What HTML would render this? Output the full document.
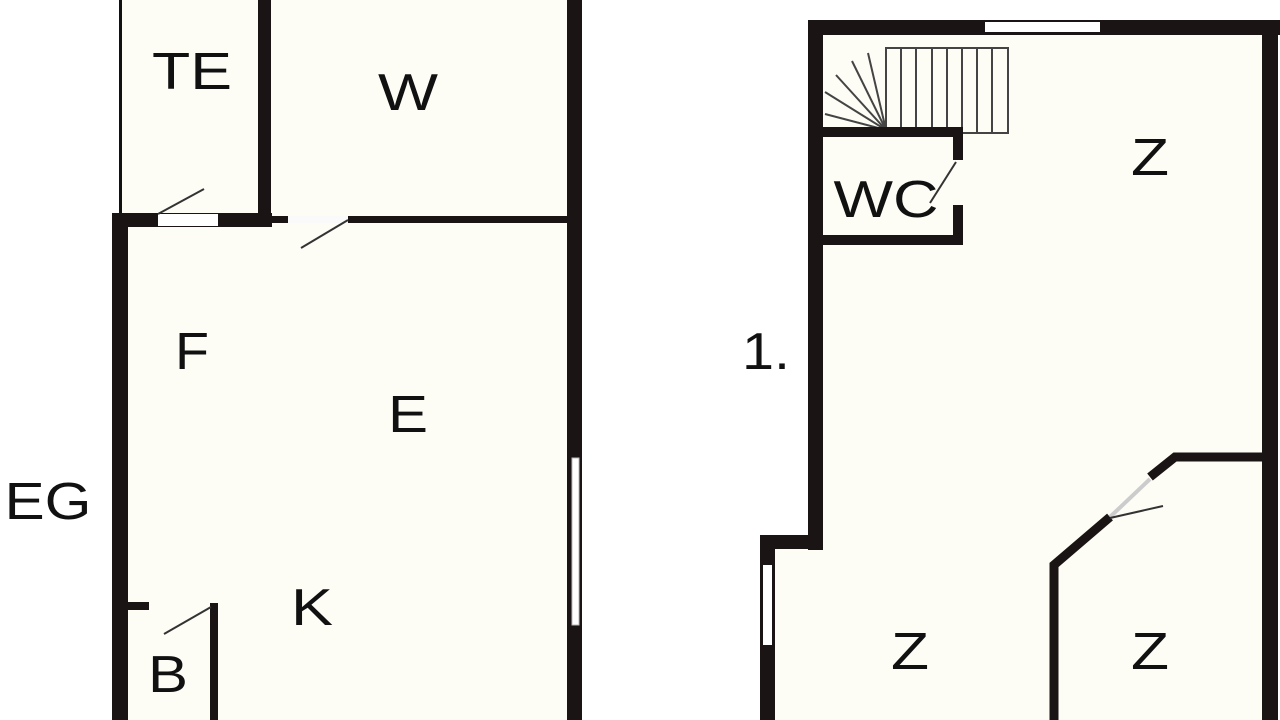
<!DOCTYPE html>
<html><head><style>
html,body{margin:0;padding:0;background:#fff;}
svg{display:block}
text{font-family:"Liberation Sans",sans-serif;font-size:52px;fill:#111;text-anchor:middle;dominant-baseline:central}
</style></head><body>
<svg width="1280" height="720" viewBox="0 0 1280 720">
<rect width="1280" height="720" fill="#fff"/>
<rect x="120" y="0" width="455" height="720" fill="#fdfdf6"/>
<path d="M815 28 H1270 V720 H768 V542 H815 Z" fill="#fdfdf6"/>

<rect x="119" y="0" width="3" height="215" fill="#111"/>
<rect x="258" y="0" width="13" height="224" fill="#1a1414"/>
<rect x="567" y="0" width="15" height="720" fill="#1a1414"/>
<rect x="572" y="458" width="7" height="167" fill="#fff" stroke="#bbb" stroke-width="1"/>
<rect x="112" y="213" width="160" height="14" fill="#1a1414"/>
<rect x="158" y="214" width="60" height="12" fill="#fff"/>
<rect x="270" y="216" width="298" height="7" fill="#1a1414"/>
<rect x="288" y="216" width="60" height="7" fill="#fafafa"/>
<rect x="112" y="213" width="16" height="507" fill="#1a1414"/>
<line x1="158" y1="214" x2="204" y2="189" stroke="#333" stroke-width="2"/>
<line x1="348" y1="220" x2="301" y2="248" stroke="#333" stroke-width="2"/>
<rect x="128" y="602" width="21" height="8" fill="#1a1414"/>
<rect x="210" y="603" width="8" height="117" fill="#1a1414"/>
<line x1="164" y1="634" x2="211" y2="607" stroke="#333" stroke-width="2"/>
<text x="192" y="72" textLength="80" lengthAdjust="spacingAndGlyphs">TE</text>
<text x="408" y="93" textLength="60" lengthAdjust="spacingAndGlyphs">W</text>
<text x="192" y="352" textLength="34" lengthAdjust="spacingAndGlyphs">F</text>
<text x="408" y="415" textLength="40" lengthAdjust="spacingAndGlyphs">E</text>
<text x="48" y="502" textLength="87" lengthAdjust="spacingAndGlyphs">EG</text>
<text x="312" y="608" textLength="42" lengthAdjust="spacingAndGlyphs">K</text>
<text x="168" y="675" textLength="40" lengthAdjust="spacingAndGlyphs">B</text>

<rect x="808" y="20" width="472" height="15" fill="#1a1414"/>
<rect x="985" y="22" width="115" height="10" fill="#fff"/>
<rect x="808" y="20" width="15" height="530" fill="#1a1414"/>
<rect x="760" y="535" width="63" height="14" fill="#1a1414"/>
<rect x="760" y="535" width="15" height="185" fill="#1a1414"/>
<rect x="763" y="565" width="9" height="80" fill="#fff"/>
<rect x="1262" y="20" width="16" height="700" fill="#1a1414"/>
<g stroke="#444" stroke-width="2" fill="none">
<rect x="886" y="48" width="122" height="85"/>
<line x1="901" y1="48" x2="901" y2="133"/><line x1="916" y1="48" x2="916" y2="133"/>
<line x1="932" y1="48" x2="932" y2="133"/><line x1="947" y1="48" x2="947" y2="133"/>
<line x1="962" y1="48" x2="962" y2="133"/><line x1="977" y1="48" x2="977" y2="133"/>
<line x1="992" y1="48" x2="992" y2="133"/>
<line x1="886" y1="130" x2="868" y2="53"/>
<line x1="886" y1="130" x2="852" y2="61"/>
<line x1="886" y1="130" x2="836" y2="75"/>
<line x1="886" y1="130" x2="825" y2="92"/>
<line x1="886" y1="130" x2="825" y2="114"/>
</g>
<rect x="823" y="127" width="140" height="10" fill="#1a1414"/>
<rect x="953" y="127" width="10" height="33" fill="#1a1414"/>
<rect x="953" y="205" width="10" height="40" fill="#1a1414"/>
<rect x="823" y="235" width="140" height="10" fill="#1a1414"/>
<line x1="956" y1="162" x2="930" y2="203" stroke="#333" stroke-width="2"/>
<path d="M1054 720 V565 L1110 517 M1150 477 L1175 457 H1262" stroke="#1a1414" stroke-width="9" fill="none"/>
<line x1="1110" y1="517" x2="1150" y2="479" stroke="#ccc" stroke-width="4"/>
<line x1="1110" y1="518" x2="1163" y2="506" stroke="#333" stroke-width="2"/>
<text x="1150" y="158" textLength="38" lengthAdjust="spacingAndGlyphs">Z</text>
<text x="886" y="200" textLength="105" lengthAdjust="spacingAndGlyphs">WC</text>
<text x="766" y="352" textLength="48" lengthAdjust="spacingAndGlyphs">1.</text>
<text x="910" y="652" textLength="38" lengthAdjust="spacingAndGlyphs">Z</text>
<text x="1150" y="652" textLength="38" lengthAdjust="spacingAndGlyphs">Z</text>
</svg>
</body></html>
